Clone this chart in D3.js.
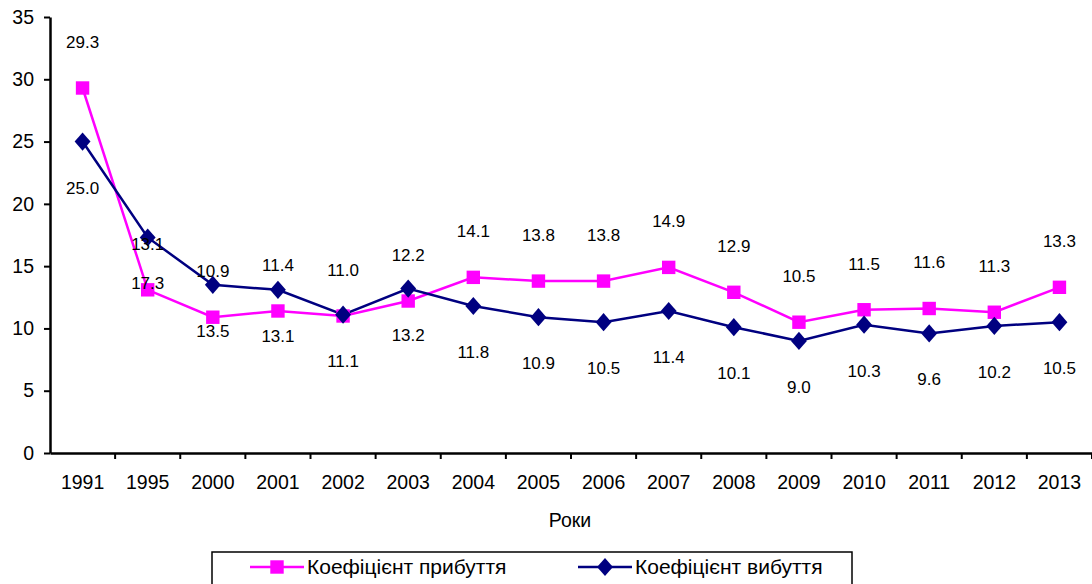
<!DOCTYPE html>
<html>
<head>
<meta charset="utf-8">
<script src="https://cdn.jsdelivr.net/npm/d3@7"></script>
<style>
  html, body { margin: 0; padding: 0; background: #fff; }
  svg { display: block; }
</style>
</head>
<body>
<svg id="chart"></svg>
<script>
/* Коефіцієнти прибуття / вибуття — line chart */

const YEARS   = ['1991', '1995', '2000', '2001', '2002', '2003', '2004', '2005',
                 '2006', '2007', '2008', '2009', '2010', '2011', '2012', '2013'];
const ARRIVAL = [29.3, 13.1, 10.9, 11.4, 11.0, 12.2, 14.1, 13.8, 13.8, 14.9, 12.9, 10.5, 11.5, 11.6, 11.3, 13.3];
const LEAVING = [25.0, 17.3, 13.5, 13.1, 11.1, 13.2, 11.8, 10.9, 10.5, 11.4, 10.1, 9.0, 10.3, 9.6, 10.2, 10.5];
const Y_TICKS = [0, 5, 10, 15, 20, 25, 30, 35];

const NAME_A = 'Коефіцієнт прибуття';
const NAME_B = 'Коефіцієнт вибуття';
const COLOR_A = '#FF00FF';
const COLOR_B = '#000080';
const FONT = 'Arial, "Liberation Sans", sans-serif';

const W = 1092, H = 584;
const margin = { top: 17, right: 0, bottom: 131, left: 50 };

const svg = d3.select('#chart').attr('width', W).attr('height', H);

const x = d3.scaleBand()
  .domain(YEARS)
  .range([margin.left, W - margin.right]);

const y = d3.scaleLinear()
  .domain([0, 35])
  .range([H - margin.bottom, margin.top]);

/* ── Axes ── */
const xAxis = svg.append('g')
  .attr('transform', `translate(0,${y(0)})`)
  .call(d3.axisBottom(x).tickSize(0).tickPadding(22));
xAxis.select('.domain').attr('stroke', '#000').attr('stroke-width', 2.5);
xAxis.selectAll('.tick text')
  .attr('font-size', 19.5).attr('font-family', FONT).attr('fill', '#000');

/* category separators below the axis */
svg.append('g')
  .selectAll('line')
  .data(YEARS)
  .join('line')
  .attr('x1', d => x(d) + x.bandwidth())
  .attr('x2', d => x(d) + x.bandwidth())
  .attr('y1', y(0))
  .attr('y2', y(0) + 6)
  .attr('stroke', '#000')
  .attr('stroke-width', 2);

const yAxis = svg.append('g')
  .attr('transform', `translate(${margin.left},0)`)
  .call(d3.axisLeft(y).tickValues(Y_TICKS).tickSize(6).tickPadding(10).tickSizeOuter(0));
yAxis.select('.domain').attr('stroke', '#000').attr('stroke-width', 2.5);
yAxis.selectAll('.tick line').attr('stroke', '#000').attr('stroke-width', 2);
yAxis.selectAll('.tick text')
  .attr('font-size', 19.5).attr('font-family', FONT).attr('fill', '#000');

svg.append('text')
  .attr('x', 570).attr('y', 527)
  .attr('text-anchor', 'middle')
  .attr('font-size', 19.5).attr('font-family', FONT)
  .text('Роки');

/* ── Series ── */
const cx = d => x(d) + x.bandwidth() / 2;
const line = d3.line().x(d => cx(d.year)).y(d => y(d.v));

const dataA = YEARS.map((year, i) => ({ year, v: ARRIVAL[i] }));
const dataB = YEARS.map((year, i) => ({ year, v: LEAVING[i] }));

svg.append('path').datum(dataA)
  .attr('fill', 'none').attr('stroke', COLOR_A).attr('stroke-width', 2.5)
  .attr('d', line);
svg.append('path').datum(dataB)
  .attr('fill', 'none').attr('stroke', COLOR_B).attr('stroke-width', 2.5)
  .attr('d', line);

const SQ = d3.symbol().type(d3.symbolSquare).size(180);
const DM = d3.symbol().type(d3.symbolDiamond2).size(160);

svg.append('g').selectAll('path')
  .data(dataA).join('path')
  .attr('transform', d => `translate(${cx(d.year)},${y(d.v)})`)
  .attr('d', SQ).attr('fill', COLOR_A);

svg.append('g').selectAll('path')
  .data(dataB).join('path')
  .attr('transform', d => `translate(${cx(d.year)},${y(d.v)}) scale(1,1.15)`)
  .attr('d', DM).attr('fill', COLOR_B);

/* ── Value labels ── */
svg.append('g').selectAll('text')
  .data(dataA).join('text')
  .attr('x', d => cx(d.year))
  .attr('y', d => y(d.v) - 40)
  .attr('text-anchor', 'middle')
  .attr('font-size', 17).attr('font-family', FONT).attr('fill', '#000')
  .text(d => d.v.toFixed(1));

svg.append('g').selectAll('text')
  .data(dataB).join('text')
  .attr('x', d => cx(d.year))
  .attr('y', d => y(d.v) + 52)
  .attr('text-anchor', 'middle')
  .attr('font-size', 17).attr('font-family', FONT).attr('fill', '#000')
  .text(d => d.v.toFixed(1));

/* ── Legend ── */
const lg = svg.append('g');
lg.append('rect')
  .attr('x', 212).attr('y', 552).attr('width', 640).attr('height', 40)
  .attr('fill', '#fff').attr('stroke', '#000').attr('stroke-width', 1.5);

const items = [
  { name: NAME_A, color: COLOR_A, sym: SQ, x0: 250, sy: 1 },
  { name: NAME_B, color: COLOR_B, sym: DM, x0: 578, sy: 1.15 }
];
items.forEach(it => {
  lg.append('line')
    .attr('x1', it.x0).attr('x2', it.x0 + 54)
    .attr('y1', 567).attr('y2', 567)
    .attr('stroke', it.color).attr('stroke-width', 2.5);
  lg.append('path')
    .attr('transform', `translate(${it.x0 + 27},567) scale(1,${it.sy})`)
    .attr('d', it.sym).attr('fill', it.color);
  lg.append('text')
    .attr('x', it.x0 + 57).attr('y', 574)
    .attr('font-size', 21).attr('font-family', FONT)
    .text(it.name);
});
</script>
</body>
</html>
